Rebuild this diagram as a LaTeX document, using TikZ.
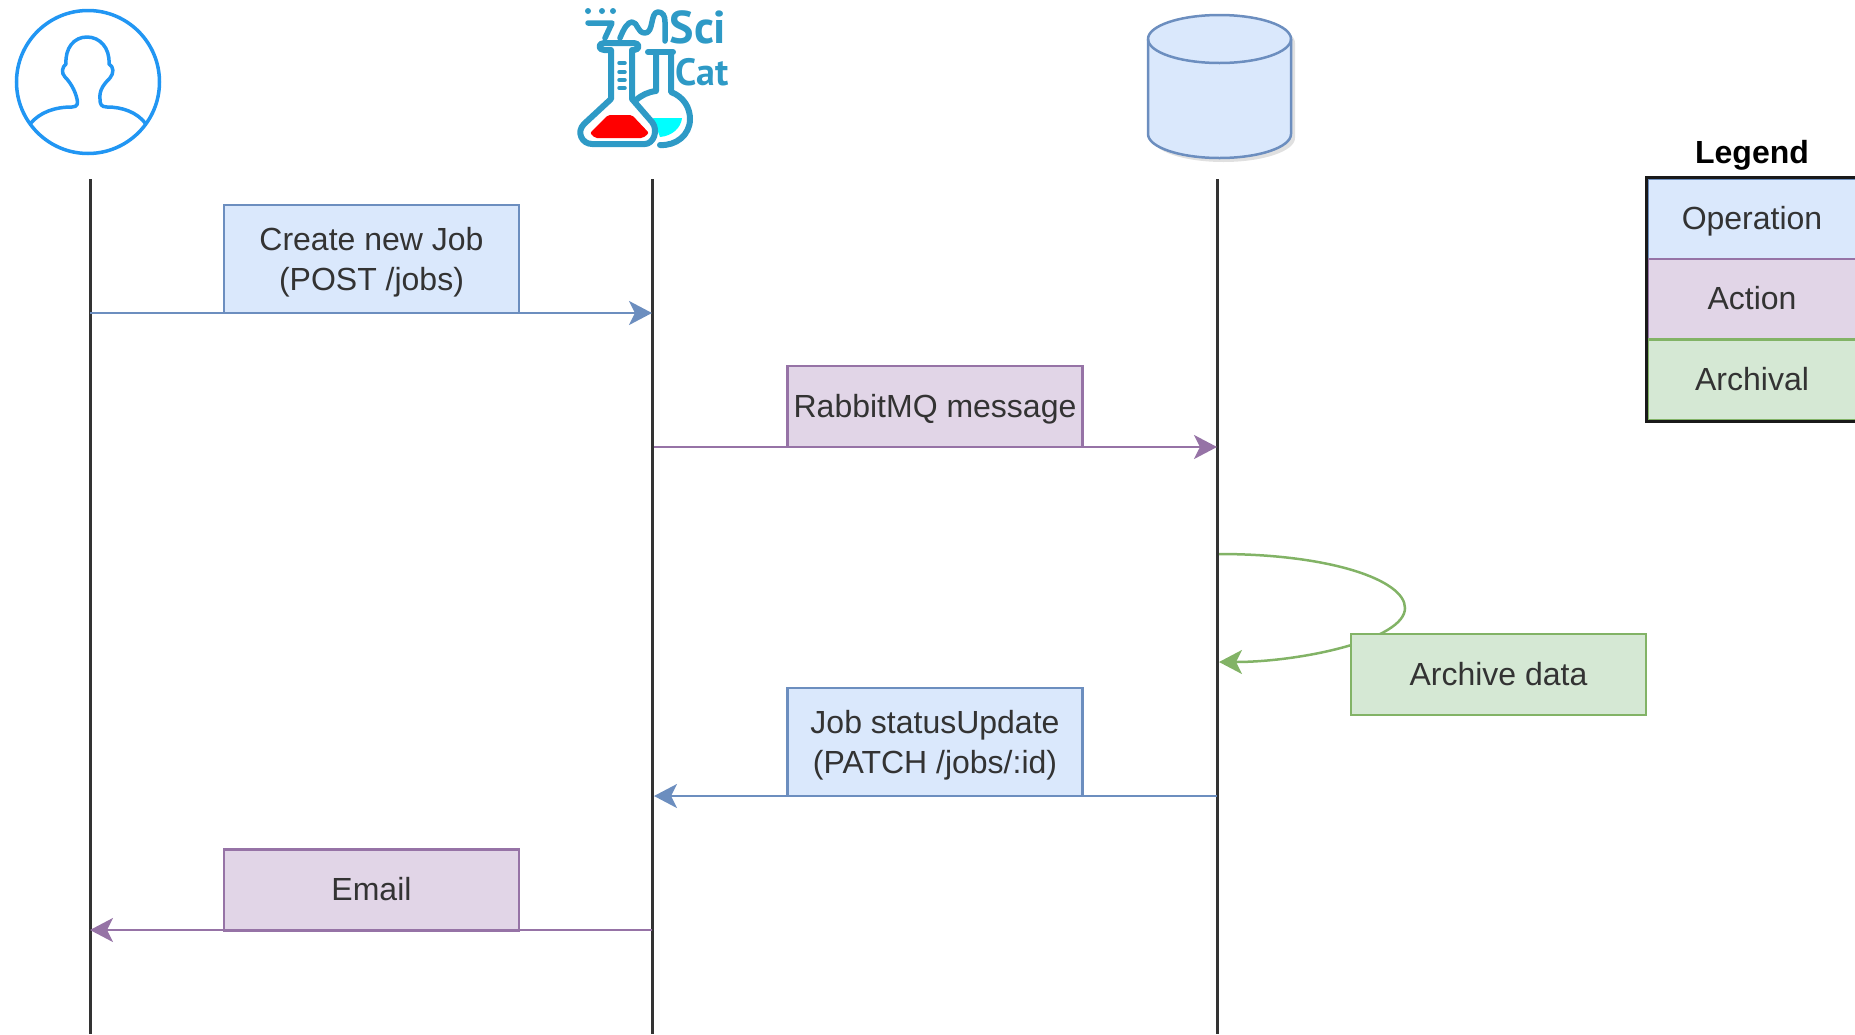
\documentclass[tikz,border=0pt]{standalone}
\usepackage{fontspec}
\setmainfont{Liberation Sans}
\newfontfamily\logofont{PT Sans}
\usetikzlibrary{arrows.meta}
\definecolor{opFill}{HTML}{DAE8FC}
\definecolor{opLine}{HTML}{6C8EBF}
\definecolor{actFill}{HTML}{E1D5E7}
\definecolor{actLine}{HTML}{9673A6}
\definecolor{arcFill}{HTML}{D5E8D4}
\definecolor{arcLine}{HTML}{82B366}
\definecolor{userBlue}{HTML}{2196F3}
\definecolor{logoBlue}{HTML}{2E9AC6}
\definecolor{logoCyan}{HTML}{00FFFF}
\tikzset{
    x=1pt, y=-1pt,
    every node/.style={font=\fontsize{32}{40}\selectfont, text=black!80, align=center, inner sep=0pt},
    oneline/.style={text height=27pt, text depth=6pt},
    twoline/.style={text height=68pt, text depth=6pt},
    msgbox/.style={draw, line width=2.5pt, minimum width=295pt},
    opbox/.style={msgbox, draw=opLine, fill=opFill},
    actbox/.style={msgbox, draw=actLine, fill=actFill},
    arcbox/.style={msgbox, draw=arcLine, fill=arcFill},
    lifeline/.style={line width=3pt, draw=black!80},
    msg/.style={line width=2.5pt, -{Stealth[length=23pt,width=24pt,inset=6pt]}},
    legendcell/.style={oneline, line width=2.5pt, minimum width=208pt, minimum height=80.5pt},
    logoline/.style={draw=logoBlue, line width=6pt, line join=round, line cap=round},
}
\begin{document}
\begin{tikzpicture}
    \useasboundingbox (0,0) rectangle (1855,1034);
    \clip (0,0) rectangle (1855,1034);

    % lifelines
    \coordinate (userTop) at (90,179);
    \coordinate (userEnd) at (90,1034);
    \coordinate (scicatTop) at (652,179);
    \coordinate (scicatEnd) at (652,1034);
    \coordinate (archiveTop) at (1217,179);
    \coordinate (archiveEnd) at (1217,1034);
    \draw[lifeline] (userTop) -- (userEnd);
    \draw[lifeline] (scicatTop) -- (scicatEnd);
    \draw[lifeline] (archiveTop) -- (archiveEnd);

    % messages
    \coordinate (createFrom) at (90,313);
    \coordinate (createTo) at (652,313);
    \coordinate (rabbitFrom) at (654,447);
    \coordinate (rabbitTo) at (1217,447);
    \coordinate (loopFrom) at (1219,554);
    \coordinate (loopTo) at (1219,662);
    \coordinate (statusFrom) at (1217,796);
    \coordinate (statusTo) at (654,796);
    \coordinate (emailFrom) at (652,930);
    \coordinate (emailTo) at (90,930);
    \draw[msg, draw=opLine, fill=opLine] (createFrom) -- (createTo);
    \draw[msg, draw=actLine, fill=actLine] (rabbitFrom) -- (rabbitTo);
    \draw[msg, draw=arcLine, -{Stealth[length=23pt,width=24pt,inset=6pt,fill=arcLine]}] (loopFrom)
        .. controls (1330,554) and (1405,580) .. (1405,608)
        .. controls (1405,640) and (1300,662) .. (loopTo);
    \draw[msg, draw=opLine, fill=opLine] (statusFrom) -- (statusTo);
    \draw[msg, draw=actLine, fill=actLine] (emailFrom) -- (emailTo);

    \node[opbox, twoline, minimum height=108pt] (createBox) at (371.5,259) {Create new Job\\(POST /jobs)};
    \node[actbox, oneline, minimum height=81pt] (rabbitBox) at (935,406.5) {RabbitMQ message};
    \node[arcbox, oneline, minimum height=81pt] (archiveBox) at (1498.5,674.5) {Archive data};
    \node[opbox, twoline, minimum height=108pt] (statusBox) at (935,742) {Job statusUpdate\\(PATCH /jobs/:id)};
    \node[actbox, oneline, minimum height=81pt] (emailBox) at (371.5,890) {Email};

    % legend
    \node[oneline, font=\fontsize{32}{40}\selectfont\bfseries, text=black] (legendTitle) at (1752,153) {Legend};
    \node[legendcell, draw=opLine, fill=opFill] (legendOperation) at (1752,218.5) {Operation};
    \node[legendcell, draw=actLine, fill=actFill] (legendAction) at (1752,299) {Action};
    \node[legendcell, draw=arcLine, fill=arcFill] (legendArchival) at (1752,379.5) {Archival};
    \draw[line width=3pt, black!90] (legendOperation.north west) rectangle (legendArchival.south east);

    % user icon
    \draw[userBlue, line width=3.5pt] (88,82) circle (71.5);
    \draw[userBlue, line width=3.5pt, line join=round] (30,124)
        .. controls (40,112) and (55,107) .. (72,107)
        .. controls (78,107) and (78,103) .. (77,99)
        .. controls (75,90) and (70,82) .. (65,77)
        .. controls (61,73) and (62,67) .. (66,64)
        .. controls (65,48) and (74,37) .. (87,37)
        .. controls (100,37) and (110,48) .. (109,64)
        .. controls (114,67) and (114,73) .. (110,78)
        .. controls (104,84) and (99,90) .. (100,99)
        .. controls (100,104) and (101,107) .. (107,107)
        .. controls (122,107) and (137,112) .. (146,124);

    % database
    \fill[black, opacity=0.12] (1152,43) -- (1152,138)
        arc[start angle=180, end angle=0, x radius=71.5, y radius=24]
        -- (1295,43) arc[start angle=0, end angle=-180, x radius=71.5, y radius=24] -- cycle;
    \draw[opLine, fill=opFill, line width=2.5pt] (1148,39) -- (1148,134)
        arc[start angle=180, end angle=0, x radius=71.5, y radius=24]
        -- (1291,39)
        arc[start angle=0, end angle=-180, x radius=71.5, y radius=24] -- cycle;
    \draw[opLine, line width=2.5pt] (1148,39)
        arc[start angle=180, end angle=0, x radius=71.5, y radius=24];

    % scicat logo
    \fill[logoCyan] (653,118) -- (682,118) .. controls (681,128) and (672,136) .. (660,137) -- cycle;
    \draw[logoline] (656,54) -- (656,91) .. controls (648,92) and (642,95) .. (636,100);
    \draw[logoline] (671,54) -- (671,92) .. controls (684,97) and (690,108) .. (690,119)
        .. controls (690,135) and (676,146) .. (660,145);
    \draw[logoline] (648,52) -- (673,52);
    \draw[logoline, fill=white] (604,43) -- (634,43)
        .. controls (640,43) and (640,50) .. (634,50)
        -- (632,50) -- (632,99) -- (652,122)
        .. controls (659,131) and (653,144) .. (645,144)
        -- (592,144) .. controls (582,144) and (576,132) .. (584,124)
        -- (611,99) -- (611,50) -- (604,50)
        .. controls (598,50) and (598,43) .. (604,43) -- cycle;
    \fill[red, rounded corners=2pt] (590,133) -- (608,115) -- (632,115) -- (649,133) -- (643,138) -- (595,138) -- cycle;
    \draw[logoline, line width=3.5pt] (619,63) -- (625,63) (619,72) -- (625,72) (619,80) -- (625,80) (619,88) -- (625,88);
    \fill[logoBlue] (588,11) circle (3) (602,11) circle (3) (613,11) circle (3);
    \draw[logoline, line width=5.5pt] (588,23) -- (612,23) -- (605,38);
    \draw[logoline, line width=5.5pt] (620,38) .. controls (624,28) and (628,22) .. (632,22)
        .. controls (638,22) and (637,33) .. (645,33)
        .. controls (654,33) and (650,12) .. (658,12)
        .. controls (663,12) and (665,16) .. (665,22) -- (665,41);
    \node[font=\logofont\bfseries\fontsize{46}{46}\selectfont, text=logoBlue] (logoSci) at (698,27) {Sci};
    \node[font=\logofont\bfseries\fontsize{38}{38}\selectfont, text=logoBlue] (logoCat) at (702,72) {Cat};
\end{tikzpicture}
\end{document}
